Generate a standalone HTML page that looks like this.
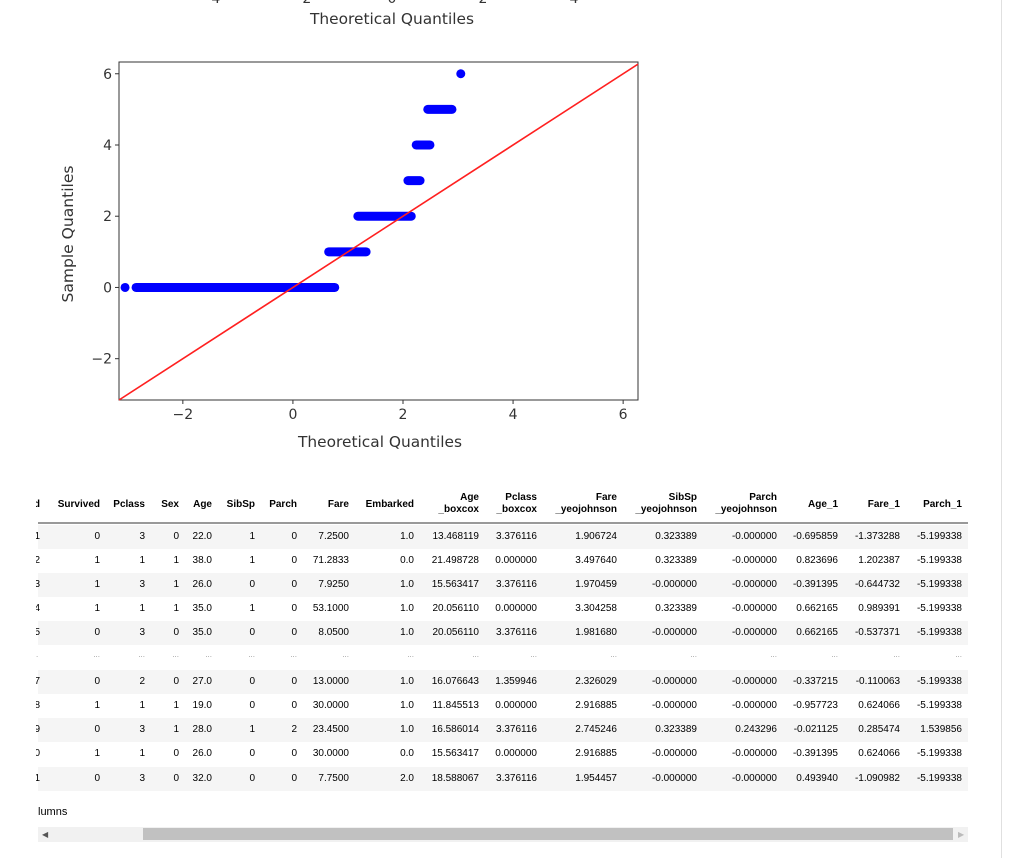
<!DOCTYPE html>
<html><head><meta charset="utf-8">
<style>
html,body{margin:0;padding:0;background:#fff;width:1010px;height:858px;overflow:hidden;position:relative}
svg text{font-family:"DejaVu Sans","Liberation Sans",sans-serif}
.t{position:absolute;font-family:"Liberation Sans",Arial,sans-serif;font-size:10px;color:#000;white-space:nowrap;text-align:right}
.h{font-weight:bold;line-height:12px}
.row{position:absolute;left:38px;width:930px;height:24px}
</style></head>
<body>
<div style="position:absolute;left:1001px;top:0;width:1px;height:858px;background:#e0e0e0"></div>
<svg id="chart" width="1010" height="460" style="position:absolute;left:0;top:0"></svg>
<div id="tbl"></div>
<div class="t" style="left:38px;top:806px;text-align:left;color:#000;font-size:11px">lumns</div>
<div style="position:absolute;left:38px;top:827px;width:930px;height:15px;background:#f1f1f1">
  <div style="position:absolute;left:4px;top:3px;font-size:8px;color:#555;font-family:'DejaVu Sans'">◀</div>
  <div style="position:absolute;left:105px;top:1px;width:810px;height:12px;background:#c1c1c1"></div>
  <div style="position:absolute;left:920px;top:3px;font-size:8px;color:#bbb;font-family:'DejaVu Sans'">▶</div>
</div>
<script>
// ---- QQ plot data ----
const levels = [0, 1, 2, 3, 4, 5];
const levelXStart = [-2.85, 0.65, 1.18, 2.09, 2.24, 2.45];
const levelXEnd = [0.76, 1.33, 2.15, 2.31, 2.49, 2.89];
const singleX = [-3.05, 3.05];
const singleY = [0, 6];
const xTicks = [-2, 0, 2, 4, 6];
const yTicks = [-2, 0, 2, 4, 6];
const topTicks = [-4, -2, 0, 2, 4];

const NS = 'http://www.w3.org/2000/svg';
const svg = document.getElementById('chart');
const L = 119, R = 638, T = 62, B = 400;
const xMin = -3.16, xMax = 6.27, yMin = -3.16, yMax = 6.33;
const sx = v => L + (v - xMin) / (xMax - xMin) * (R - L);
const sy = v => B - (v - yMin) / (yMax - yMin) * (B - T);
function mk(tag, attrs, parent) { const e = document.createElementNS(NS, tag); for (const k in attrs) e.setAttribute(k, attrs[k]); (parent || svg).appendChild(e); return e; }

// previous chart remnants
topTicks.forEach(v => {
  const t = mk('text', {x: 392 + v * 45.5, y: 3, 'text-anchor': 'middle', 'font-size': 14, fill: '#333'});
  t.textContent = v < 0 ? '\u2212' + (-v) : v;
  
  
});
let tt = mk('text', {x: 392, y: 24, 'text-anchor': 'middle', 'font-size': 15, fill: '#333', textLength: 164, lengthAdjust: 'spacingAndGlyphs'});
tt.textContent = 'Theoretical Quantiles';



// axes frame
const frame = mk('rect', {x: L, y: T, width: R - L, height: B - T, fill: 'none', stroke: '#333', 'stroke-width': 1});



xTicks.forEach(v => {
  mk('line', {x1: sx(v), x2: sx(v), y1: B, y2: B + 4, stroke: '#333'});
  const t = mk('text', {x: sx(v), y: B + 19, 'text-anchor': 'middle', 'font-size': 14, fill: '#333'});
  t.textContent = v < 0 ? '\u2212' + (-v) : v;
  
  
});
yTicks.forEach(v => {
  mk('line', {x1: L - 4, x2: L, y1: sy(v), y2: sy(v), stroke: '#333'});
  const t = mk('text', {x: L - 7, y: sy(v) + 5, 'text-anchor': 'end', 'font-size': 14, fill: '#333'});
  t.textContent = v < 0 ? '\u2212' + (-v) : v;
  
  
});
let xt = mk('text', {x: 380, y: 447, 'text-anchor': 'middle', 'font-size': 15, fill: '#333', textLength: 164, lengthAdjust: 'spacingAndGlyphs'});
xt.textContent = 'Theoretical Quantiles';


let yt = mk('text', {x: 0, y: 0, 'text-anchor': 'middle', 'font-size': 15, fill: '#333', textLength: 137, lengthAdjust: 'spacingAndGlyphs', transform: 'translate(73,234) rotate(-90)'});
yt.textContent = 'Sample Quantiles';



// points
levels.forEach((lv, i) => {
  const s = mk('line', {x1: sx(levelXStart[i]), x2: sx(levelXEnd[i]), y1: sy(lv), y2: sy(lv), stroke: '#0000ff', 'stroke-width': 9, 'stroke-linecap': 'round'});
  
  
});
singleX.forEach((x, i) => {
  const c = mk('circle', {cx: sx(x), cy: sy(singleY[i]), r: 4.5, fill: '#0000ff'});
  
  
});
// reference line y = x
const rl = mk('line', {x1: sx(xMin), y1: sy(xMin), x2: sx(xMax), y2: sy(xMax), stroke: '#ff2020', 'stroke-width': 1.6});



// ---- table ----
const tbl = document.getElementById('tbl');
const colRight = [40,100,145,179,212,255,297,349,414,479,537,617,697,777,838,900,962];
const headers = [['','d'],['','Survived'],['','Pclass'],['','Sex'],['','Age'],['','SibSp'],['','Parch'],['','Fare'],['','Embarked'],['Age','_boxcox'],['Pclass','_boxcox'],['Fare','_yeojohnson'],['SibSp','_yeojohnson'],['Parch','_yeojohnson'],['','Age_1'],['','Fare_1'],['','Parch_1']];
const rows = [
['1','0','3','0','22.0','1','0','7.2500','1.0','13.468119','3.376116','1.906724','0.323389','-0.000000','-0.695859','-1.373288','-5.199338'],
['2','1','1','1','38.0','1','0','71.2833','0.0','21.498728','0.000000','3.497640','0.323389','-0.000000','0.823696','1.202387','-5.199338'],
['3','1','3','1','26.0','0','0','7.9250','1.0','15.563417','3.376116','1.970459','-0.000000','-0.000000','-0.391395','-0.644732','-5.199338'],
['4','1','1','1','35.0','1','0','53.1000','1.0','20.056110','0.000000','3.304258','0.323389','-0.000000','0.662165','0.989391','-5.199338'],
['5','0','3','0','35.0','0','0','8.0500','1.0','20.056110','3.376116','1.981680','-0.000000','-0.000000','0.662165','-0.537371','-5.199338'],
['.','...','...','...','...','...','...','...','...','...','...','...','...','...','...','...','...'],
['7','0','2','0','27.0','0','0','13.0000','1.0','16.076643','1.359946','2.326029','-0.000000','-0.000000','-0.337215','-0.110063','-5.199338'],
['8','1','1','1','19.0','0','0','30.0000','1.0','11.845513','0.000000','2.916885','-0.000000','-0.000000','-0.957723','0.624066','-5.199338'],
['9','0','3','1','28.0','1','2','23.4500','1.0','16.586014','3.376116','2.745246','0.323389','0.243296','-0.021125','0.285474','1.539856'],
['0','1','1','0','26.0','0','0','30.0000','0.0','15.563417','0.000000','2.916885','-0.000000','-0.000000','-0.391395','0.624066','-5.199338'],
['1','0','3','0','32.0','0','0','7.7500','2.0','18.588067','3.376116','1.954457','-0.000000','-0.000000','0.493940','-1.090982','-5.199338']];
const rowTop = [525,549,573,597,621,646,670,694,718,742,767];
const rowBg = ['#f5f5f5','#fff','#f5f5f5','#fff','#f5f5f5','#fff','#f5f5f5','#fff','#f5f5f5','#fff','#f5f5f5'];

headers.forEach((h, c) => {
  const d = document.createElement('div');
  d.className = 't h';
  
  
  d.style.top = (h[0] ? 492 : 499) + 'px';
  d.innerHTML = h[0] ? h[0] + '<br>' + h[1] : h[1];
  if (c === 0) { d.style.left = '36px'; d.style.width = '4px'; d.style.overflow = 'hidden'; d.style.direction = 'rtl'; d.style.textAlign = 'left'; }
  else d.style.right = (1010 - colRight[c]) + 'px';
  tbl.appendChild(d);
});
const hl = document.createElement('div');


hl.style.cssText = 'position:absolute;left:38px;top:522px;width:930px;height:2px;background:#999';
tbl.appendChild(hl);

rows.forEach((r, i) => {
  const bg = document.createElement('div');
  bg.className = 'row';
  
  
  bg.style.top = rowTop[i] + 'px';
  bg.style.background = rowBg[i];
  tbl.appendChild(bg);
  r.forEach((v, c) => {
    const d = document.createElement('div');
    d.className = 't';
    
    
    d.textContent = v;
    d.style.top = (rowTop[i] + 6) + 'px';
    if (v.startsWith('...') || v === '.') { d.style.color = '#999'; d.style.fontSize = '8px'; d.style.top = (rowTop[i] + 4) + 'px'; }
    if (c === 0) { d.style.left = '36px'; d.style.width = '4px'; d.style.overflow = 'hidden'; d.style.direction = 'rtl'; d.style.textAlign='left'; }
    else d.style.right = (1010 - colRight[c]) + 'px';
    tbl.appendChild(d);
  });
});
</script>
</body></html>
